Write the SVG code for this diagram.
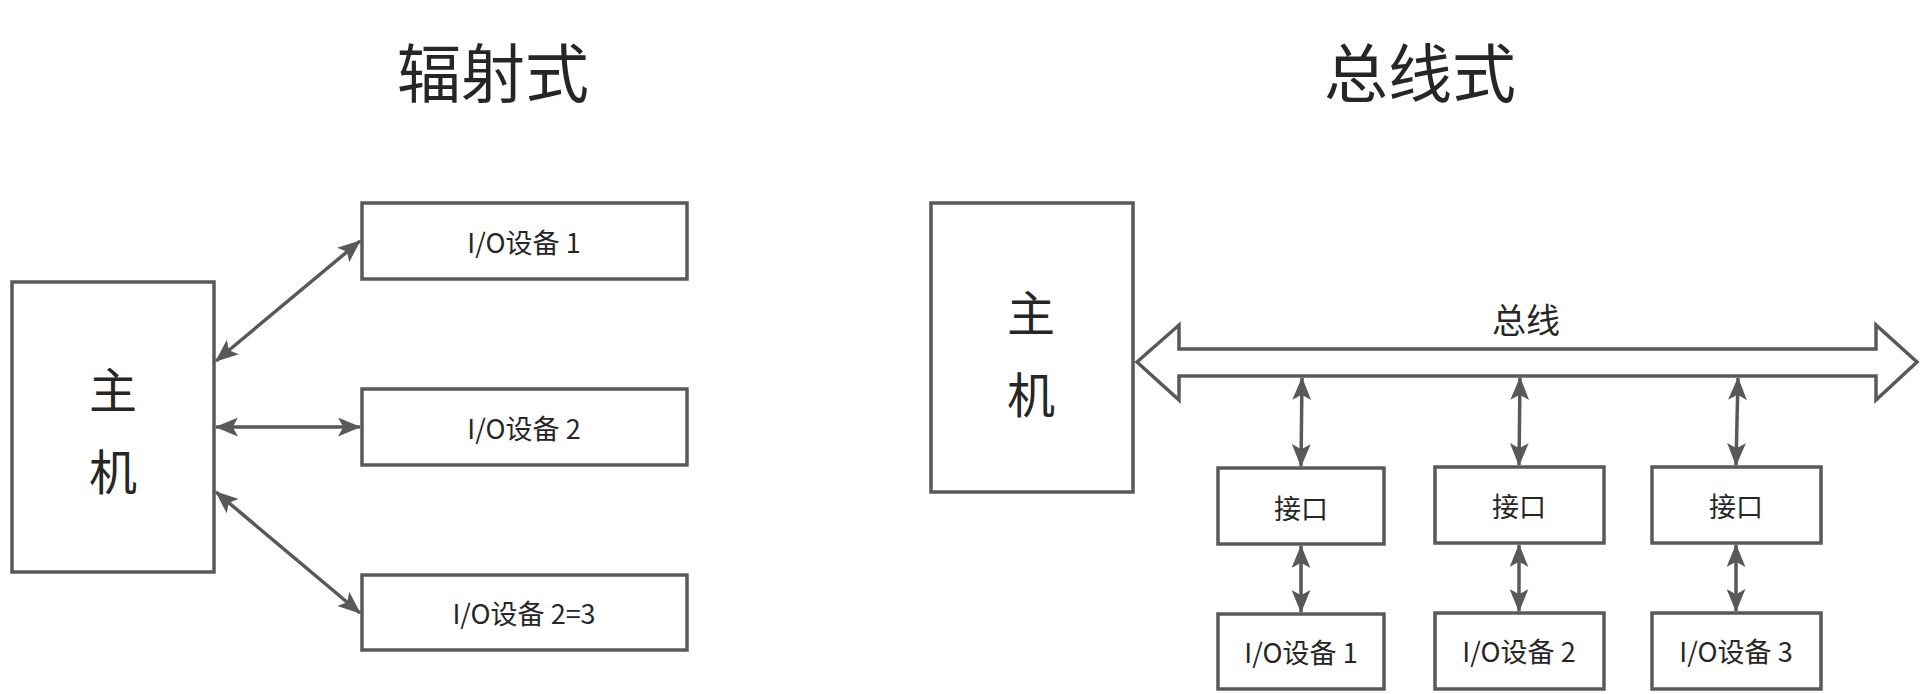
<svg xmlns="http://www.w3.org/2000/svg" width="1930" height="694" viewBox="0 0 1930 694">
<style>
.box{fill:#fff;stroke:#595959;stroke-width:3.5}
.t{font-family:"Noto Sans CJK SC","Noto Sans",sans-serif;fill:#262626;text-anchor:middle;dominant-baseline:central}
.title{font-size:64px}
.big{font-size:48px}
.lbl{font-size:27px}
.conn line{stroke:#595959;stroke-width:3.5;marker-start:url(#ah);marker-end:url(#ah)}
.bus{fill:#fff;stroke:#595959;stroke-width:3.5;stroke-linejoin:miter}
</style>
<defs>
<marker id="ah" viewBox="0 0 22 18" markerWidth="23" markerHeight="19" refX="21" refY="9" orient="auto-start-reverse" markerUnits="userSpaceOnUse">
<path d="M0,0 L22,9 L0,18 L5,9 Z" fill="#595959"/>
</marker>
</defs>
<rect width="1930" height="694" fill="#fff"/>

<text class="t title" x="493" y="69">辐射式</text>
<text class="t title" x="1420" y="69">总线式</text>

<g id="host-left">
<rect class="box" x="12" y="282" width="202" height="290"/>
<text class="t big" x="113" y="387">主</text>
<text class="t big" x="113" y="469">机</text>
</g>
<g id="io-left-1">
<rect class="box" x="362" y="203" width="325" height="76"/>
<text class="t lbl" x="524" y="241">I/O设备 1</text>
</g>
<g id="io-left-2">
<rect class="box" x="362" y="389" width="325" height="76"/>
<text class="t lbl" x="524" y="427">I/O设备 2</text>
</g>
<g id="io-left-3">
<rect class="box" x="362" y="575" width="325" height="75"/>
<text class="t lbl" x="524" y="612">I/O设备 2=3</text>
</g>

<g id="host-right">
<rect class="box" x="931" y="203" width="202" height="289"/>
<text class="t big" x="1031" y="310">主</text>
<text class="t big" x="1031" y="392">机</text>
</g>
<g id="bus">
<path class="bus" d="M1137,362 L1179,325 L1179,349 L1876,349 L1876,325 L1917,362 L1876,400 L1876,376 L1179,376 L1179,400 Z"/>
<text class="t" style="font-size:34px" x="1526" y="318">总线</text>
</g>
<g id="if-1">
<rect class="box" x="1218" y="468" width="166" height="76"/>
<text class="t lbl" x="1301" y="507">接口</text>
</g>
<g id="if-2">
<rect class="box" x="1435" y="467" width="169" height="76"/>
<text class="t lbl" x="1519" y="505">接口</text>
</g>
<g id="if-3">
<rect class="box" x="1652" y="467" width="169" height="76"/>
<text class="t lbl" x="1736" y="505">接口</text>
</g>
<g id="io-right-1">
<rect class="box" x="1218" y="614" width="166" height="75"/>
<text class="t lbl" x="1301" y="651">I/O设备 1</text>
</g>
<g id="io-right-2">
<rect class="box" x="1435" y="613" width="169" height="76"/>
<text class="t lbl" x="1519" y="650">I/O设备 2</text>
</g>
<g id="io-right-3">
<rect class="box" x="1652" y="613" width="169" height="76"/>
<text class="t lbl" x="1736" y="650">I/O设备 3</text>
</g>

<g id="connectors" class="conn">
<line x1="216" y1="361" x2="360" y2="241"/>
<line x1="216" y1="427" x2="360" y2="427"/>
<line x1="216" y1="492" x2="360" y2="613"/>
<line x1="1302" y1="378" x2="1301" y2="466"/>
<line x1="1520" y1="378" x2="1519" y2="465"/>
<line x1="1738" y1="378" x2="1736" y2="465"/>
<line x1="1301" y1="546" x2="1301" y2="612"/>
<line x1="1519" y1="545" x2="1519" y2="611"/>
<line x1="1736" y1="545" x2="1736" y2="611"/>
</g>
</svg>
